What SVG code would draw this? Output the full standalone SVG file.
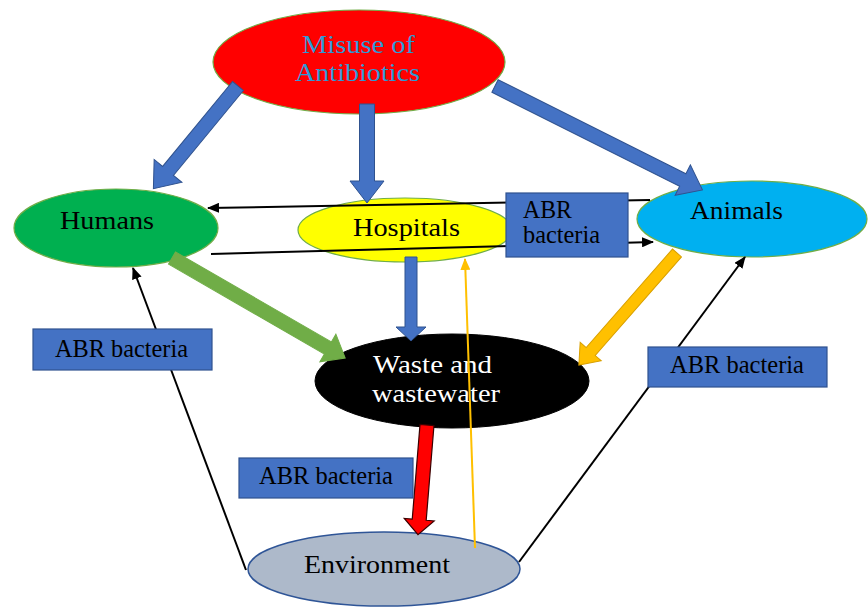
<svg xmlns="http://www.w3.org/2000/svg" width="868" height="611" viewBox="0 0 868 611">
<defs>
<marker id="ah" markerWidth="12" markerHeight="10" refX="11" refY="5" orient="auto" markerUnits="userSpaceOnUse">
<path d="M0,0 L12,5 L0,10 Z" fill="#000"/>
</marker>
<marker id="ahy" markerWidth="12" markerHeight="10" refX="11" refY="5" orient="auto" markerUnits="userSpaceOnUse">
<path d="M0,0 L12,5 L0,10 Z" fill="#FFC000"/>
</marker>
</defs>
<style>
text{font-family:"Liberation Serif","Times New Roman",serif;font-size:25px;fill:#000}
.node{stroke:#70AD47;stroke-width:1.2}
.box{fill:#4472C4;stroke:#2F528F;stroke-width:1.2}
.thin{stroke:#000;stroke-width:2;fill:none}
.blue{fill:#4472C4;stroke:#2F528F;stroke-width:1}
</style>
<rect width="868" height="611" fill="#fff"/>

<g id="misuse">
<ellipse class="node" cx="359" cy="62" rx="146" ry="52" fill="#FF0000"/>
<text x="302" y="53" style="fill:#2E9AD6;font-size:26px" textLength="113" lengthAdjust="spacingAndGlyphs">Misuse of</text>
<text x="295" y="81" style="fill:#2E9AD6;font-size:26px" textLength="125" lengthAdjust="spacingAndGlyphs">Antibiotics</text>
</g>
<g id="humans">
<ellipse class="node" cx="116" cy="228" rx="102" ry="39" fill="#00B050"/>
<text x="60" y="229" textLength="94" lengthAdjust="spacingAndGlyphs">Humans</text>
</g>
<g id="hospitals">
<ellipse class="node" cx="405" cy="230" rx="107" ry="32" fill="#FFFF00"/>
<text x="353" y="236" textLength="107" lengthAdjust="spacingAndGlyphs">Hospitals</text>
</g>
<g id="animals">
<ellipse class="node" cx="752" cy="219" rx="115" ry="38" fill="#00B0F0"/>
<text x="690" y="219" textLength="93" lengthAdjust="spacingAndGlyphs">Animals</text>
</g>
<g id="waste">
<ellipse cx="452" cy="381" rx="137" ry="47" fill="#000" stroke="#000"/>
<text x="373" y="373" style="fill:#fff" textLength="119" lengthAdjust="spacingAndGlyphs">Waste and</text>
<text x="372" y="402" style="fill:#fff" textLength="128" lengthAdjust="spacingAndGlyphs">wastewater</text>
</g>
<g id="environment">
<ellipse cx="384" cy="569" rx="136" ry="37" fill="#ADB9CA" stroke="#2F5597" stroke-width="1.5"/>
<text x="304" y="573" textLength="146" lengthAdjust="spacingAndGlyphs">Environment</text>
</g>

<g id="connectors">
<line class="thin" x1="650" y1="200" x2="208" y2="208" marker-end="url(#ah)"/>
<line class="thin" x1="211" y1="254" x2="653" y2="242" marker-end="url(#ah)"/>
<line class="thin" x1="246" y1="570" x2="133" y2="268" marker-end="url(#ah)"/>
<line class="thin" x1="519" y1="562" x2="745" y2="257" marker-end="url(#ah)"/>
<line x1="475" y1="548" x2="465" y2="259" stroke="#FFC000" stroke-width="2" marker-end="url(#ahy)"/>
<polygon class="blue" points="0,-7 110,-7 110,-18 133,0 110,18 110,7 0,7" transform="translate(238,86) rotate(129.5)"/>
<polygon class="blue" points="0,-7.5 77,-7.5 77,-17 99,0 77,17 77,7.5 0,7.5" transform="translate(367,104) rotate(90)"/>
<polygon class="blue" points="0,-7 210,-7 210,-17 232,0 210,17 210,7 0,7" transform="translate(495,86) rotate(26.6)"/>
<polygon class="blue" points="0,-6 70,-6 70,-15 84,0 70,15 70,6 0,6" transform="translate(411,257) rotate(90)"/>
<polygon points="0,-7 180,-7 180,-16 200,0 180,16 180,7 0,7" fill="#70AD47" stroke="#70AD47" transform="translate(172,258) rotate(30)"/>
<polygon points="0,-6 131,-6 131,-14 149,0 131,14 131,6 0,6" fill="#FFC000" stroke="#D9A000" transform="translate(677,253) rotate(131.2)"/>
<polygon points="0,-7 95,-7 95,-15 110,0 95,15 95,7 0,7" fill="#FF0000" stroke="#3A0000" stroke-width="1.2" transform="translate(427,425) rotate(94.7)"/>
</g>

<g id="abr-top">
<rect class="box" x="506" y="193" width="122" height="64"/>
<text x="523" y="218" textLength="49" lengthAdjust="spacingAndGlyphs">ABR</text>
<text x="523" y="243" textLength="77" lengthAdjust="spacingAndGlyphs">bacteria</text>
</g>
<g id="abr-left">
<rect class="box" x="33" y="329" width="179" height="41"/>
<text x="55" y="357" textLength="133" lengthAdjust="spacingAndGlyphs">ABR bacteria</text>
</g>
<g id="abr-right">
<rect class="box" x="648" y="347" width="179" height="40"/>
<text x="670" y="373" textLength="134" lengthAdjust="spacingAndGlyphs">ABR bacteria</text>
</g>
<g id="abr-bottom">
<rect class="box" x="239" y="458" width="174" height="40"/>
<text x="259" y="484" textLength="134" lengthAdjust="spacingAndGlyphs">ABR bacteria</text>
</g>
</svg>
